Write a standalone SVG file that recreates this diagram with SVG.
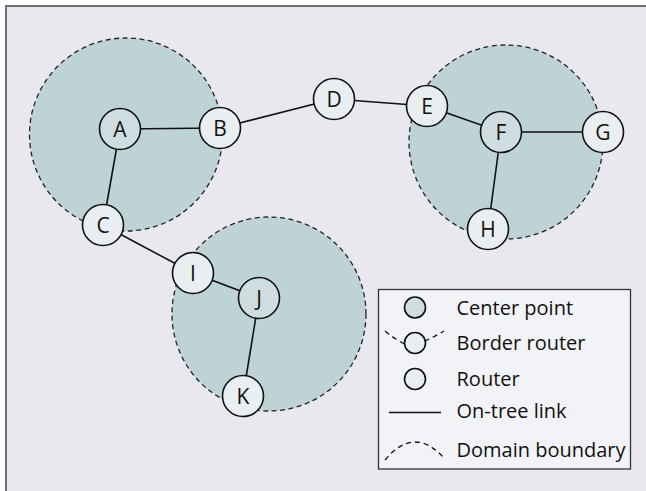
<svg xmlns="http://www.w3.org/2000/svg" width="646" height="491" viewBox="0 0 646 491">
<style>
.dom{fill:#bdd3d6;stroke:#222;stroke-width:1.3;stroke-dasharray:5 3.5}
.link{stroke:#111;stroke-width:1.6;fill:none}
.rt{fill:#e9eef0;stroke:#111;stroke-width:1.6}
.ct{fill:#cfdde0;stroke:#111;stroke-width:1.6}
.lbl{font-family:"Open Sans","Noto Sans",sans-serif;font-size:21px;fill:#111;text-anchor:middle}
.leg{font-family:"Open Sans","Noto Sans",sans-serif;font-size:20px;fill:#111}
.dash{stroke:#111;stroke-width:1.3;fill:none;stroke-dasharray:5 4}
</style>
<rect x="0" y="0" width="646" height="491" fill="#ffffff"/>
<rect x="6" y="6" width="640" height="485" fill="#e8e8ee"/>
<path d="M6,491 V6 H646" fill="none" stroke="#707070" stroke-width="2"/>
<g id="domains">
<circle class="dom" cx="126" cy="134.5" r="96.5"/>
<circle class="dom" cx="506" cy="142" r="97"/>
<circle class="dom" cx="269" cy="314" r="97"/>
</g>
<g id="connectors">
<line class="link" x1="120" y1="129" x2="220" y2="128"/>
<line class="link" x1="120" y1="129" x2="103" y2="225"/>
<line class="link" x1="220" y1="128" x2="334" y2="99"/>
<line class="link" x1="334" y1="99" x2="427" y2="106"/>
<line class="link" x1="427" y1="106" x2="501" y2="132"/>
<line class="link" x1="501" y1="132" x2="603" y2="132"/>
<line class="link" x1="501" y1="132" x2="488" y2="229"/>
<line class="link" x1="103" y1="225" x2="193" y2="273"/>
<line class="link" x1="193" y1="273" x2="259" y2="298"/>
<line class="link" x1="259" y1="298" x2="243" y2="396"/>
</g>
<g id="node-A"><circle class="ct" cx="120" cy="129" r="20.5"/><text class="lbl" x="120" y="136.5">A</text></g>
<g id="node-B"><circle class="rt" cx="220" cy="128" r="20.5"/><text class="lbl" x="220" y="135.5">B</text></g>
<g id="node-C"><circle class="rt" cx="103" cy="225" r="20.5"/><text class="lbl" x="103" y="232.5">C</text></g>
<g id="node-D"><circle class="rt" cx="334" cy="99" r="20.5"/><text class="lbl" x="334" y="106.5">D</text></g>
<g id="node-E"><circle class="rt" cx="427" cy="106" r="20.5"/><text class="lbl" x="427" y="113.5">E</text></g>
<g id="node-F"><circle class="ct" cx="501" cy="132" r="20.5"/><text class="lbl" x="501" y="139.5">F</text></g>
<g id="node-G"><circle class="rt" cx="603" cy="132" r="20.5"/><text class="lbl" x="603" y="139.5">G</text></g>
<g id="node-H"><circle class="rt" cx="488" cy="229" r="20.5"/><text class="lbl" x="488" y="236.5">H</text></g>
<g id="node-I"><circle class="rt" cx="193" cy="273" r="20.5"/><text class="lbl" x="193" y="280.5">I</text></g>
<g id="node-J"><circle class="ct" cx="259" cy="298" r="20.5"/><text class="lbl" x="259" y="305.5">J</text></g>
<g id="node-K"><circle class="rt" cx="243" cy="396" r="20.5"/><text class="lbl" x="243" y="403.5">K</text></g>
<g id="legend">
<rect x="378.5" y="289.5" width="252" height="179.5" fill="#f2f3f6" stroke="#333" stroke-width="1.3"/>
<circle class="ct" cx="415" cy="307.5" r="10.5" stroke-width="1.3"/>
<text class="leg" x="456.5" y="315">Center point</text>
<path class="dash" d="M385,331 Q396,340 405,344"/>
<path class="dash" d="M425,341 Q434,337 444,331"/>
<circle class="rt" cx="415" cy="343" r="10.5" stroke-width="1.3"/>
<text class="leg" x="456.5" y="350">Border router</text>
<circle class="rt" cx="415" cy="379" r="10.5" stroke-width="1.3"/>
<text class="leg" x="456.5" y="386">Router</text>
<line class="link" x1="389" y1="412.5" x2="441" y2="412.5" stroke-width="1.3"/>
<text class="leg" x="456.5" y="418">On-tree link</text>
<path class="dash" d="M385,460 Q414,425 444,458"/>
<text class="leg" x="456.5" y="457">Domain boundary</text>
</g>
</svg>
